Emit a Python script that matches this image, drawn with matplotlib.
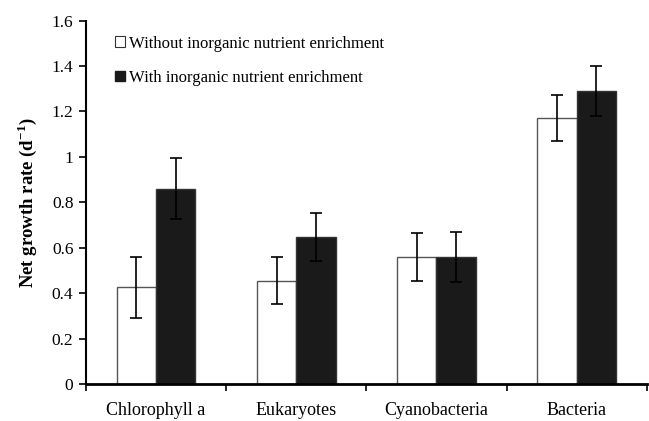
import numpy as np
from matplotlib import pyplot as plt
from matplotlib.patches import Patch

plt.rcParams['font.family'] = ['Liberation Serif', 'DejaVu Serif']

groups = ['Chlorophyll a', 'Eukaryotes', 'Cyanobacteria', 'Bacteria']
without = [0.425, 0.455, 0.56, 1.172]
without_err = [0.133, 0.105, 0.105, 0.10]
with_nut = [0.86, 0.648, 0.56, 1.292]
with_err = [0.133, 0.105, 0.11, 0.11]

fig = plt.figure(figsize=(6.49, 4.21), dpi=100)
ax = fig.add_axes([0.1325, 0.088, 0.864, 0.863])

x = np.arange(len(groups))
w = 0.28
ax.bar(x - w/2, without, w, color='white', edgecolor='#555555', linewidth=1.0, zorder=2)
ax.bar(x + w/2, with_nut, w, color='#1a1a1a', edgecolor='#333333', linewidth=1.0, zorder=2)
ax.errorbar(x - w/2, without, yerr=without_err, fmt='none', ecolor='black',
            elinewidth=1.2, capsize=4, capthick=1.2, zorder=3)
ax.errorbar(x + w/2, with_nut, yerr=with_err, fmt='none', ecolor='black',
            elinewidth=1.2, capsize=4, capthick=1.2, zorder=3)

ax.set_xlim(-0.5, len(groups) - 0.5)
ax.set_ylim(0, 1.6)
ax.set_yticks(np.arange(0, 1.61, 0.2))
ax.set_yticklabels(['0', '0.2', '0.4', '0.6', '0.8', '1', '1.2', '1.4', '1.6'])

# boundaries get the tick marks, centres get the names
ax.set_xticks(np.arange(-0.5, len(groups), 1.0))
ax.set_xticklabels([])
ax.set_xticks(x, minor=True)
ax.set_xticklabels(groups, minor=True)
ax.tick_params(axis='x', which='minor', length=0, pad=13, labelsize=13)
ax.tick_params(axis='x', which='major', length=5, width=1.2, direction='out')
ax.tick_params(axis='y', length=5, width=1.2, direction='out', labelsize=12.5, pad=4)

for s in ['top', 'right']:
    ax.spines[s].set_visible(False)
ax.spines['left'].set_linewidth(1.5)
ax.spines['bottom'].set_linewidth(2.0)

ax.set_ylabel('Net growth rate (d$^{\\mathregular{-1}}$)', fontsize=13.5, fontweight='bold', labelpad=9)

handles = [Patch(facecolor='white', edgecolor='#333333', linewidth=0.8),
           Patch(facecolor='#1a1a1a', edgecolor='#1a1a1a')]
ax.legend(handles, ['Without inorganic nutrient enrichment', 'With inorganic nutrient enrichment'],
          loc='upper left', bbox_to_anchor=(0.025, 1.0), frameon=False, fontsize=12,
          handlelength=0.6, handleheight=0.6, handletextpad=0.25, labelspacing=1.1)

plt.savefig('out.png', dpi=100)
